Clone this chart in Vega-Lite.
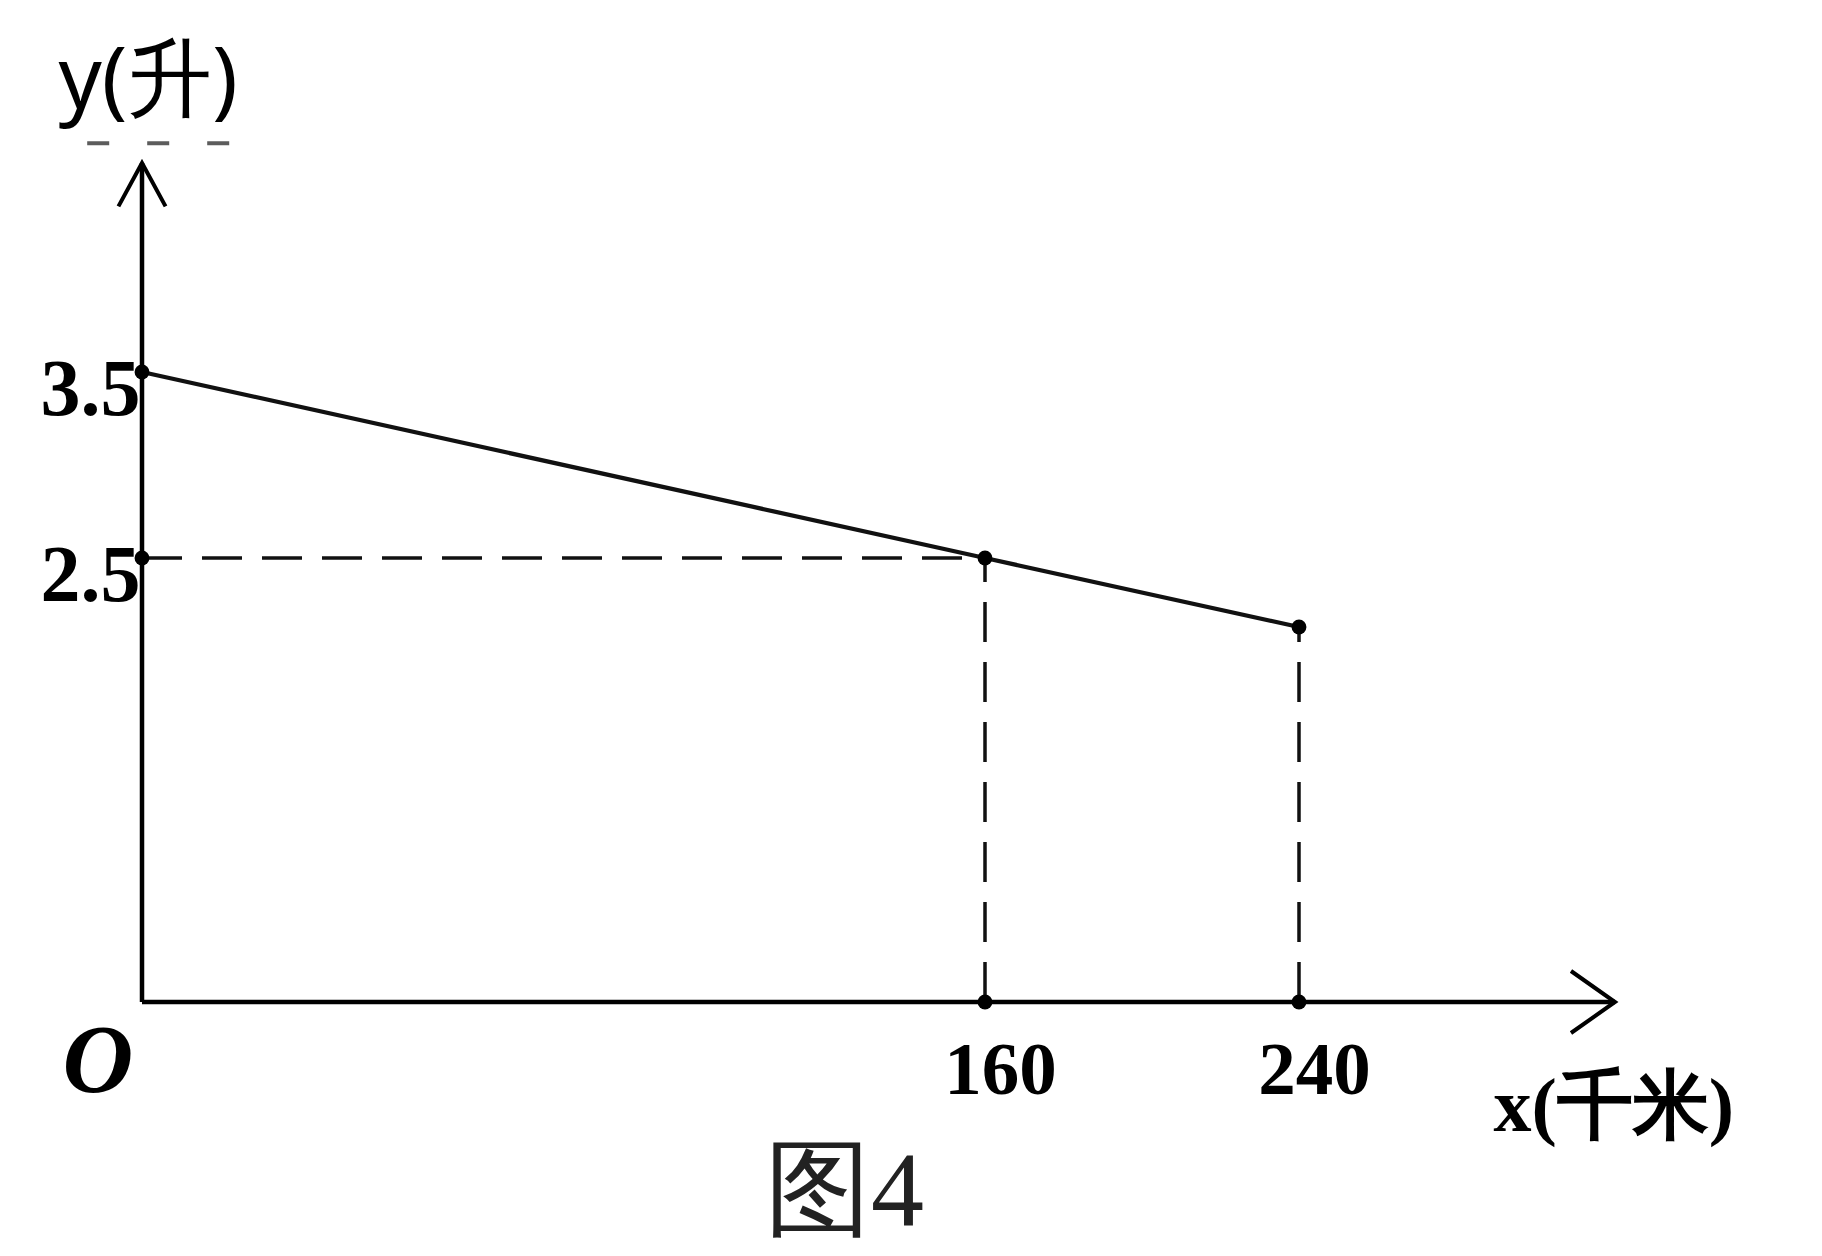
{
  "$schema": "https://vega.github.io/schema/vega-lite/v6.json",
  "width": 1473,
  "height": 839,
  "autosize": {"type": "none"},
  "padding": {"left": 142, "top": 163, "right": 207, "bottom": 254},
  "background": "white",
  "config": {"view": {"stroke": null}},
  "title": {"text": "图4", "orient": "bottom", "anchor": "middle", "frame": "group", "font": "Liberation Serif", "fontSize": 106, "fontWeight": "normal", "color": "#222", "offset": -4, "dx": -34},
  "datasets": {
    "axesLines": [
      {"x": 0, "y": 0, "x2": 320, "y2": 0},
      {"x": 0, "y": 0, "x2": 0, "y2": 4.66}
    ],
    "dashes": [
      {"x": 0, "y": 2.5, "x2": 160, "y2": 2.5},
      {"x": 160, "y": 0, "x2": 160, "y2": 2.5},
      {"x": 240, "y": 0, "x2": 240, "y2": 2.0}
    ],
    "topDash": [
      {"x": -10.4, "y": 4.77, "x2": 21.8, "y2": 4.77}
    ],
    "fuel": [
      {"x": 0, "y": 3.5},
      {"x": 160, "y": 2.5},
      {"x": 240, "y": 2.0}
    ],
    "dots": [
      {"x": 0, "y": 3.5},
      {"x": 0, "y": 2.5},
      {"x": 160, "y": 2.5},
      {"x": 240, "y": 2.0},
      {"x": 160, "y": 0},
      {"x": 240, "y": 0}
    ],
    "arrows": [
      {"x": 320, "y": 0, "dir": "right"},
      {"x": 0, "y": 4.66, "dir": "up"}
    ],
    "origin": [
      {"x": 0, "y": 0, "label": "O"}
    ]
  },
  "layer": [
    {
      "data": {"name": "axesLines"},
      "mark": {"type": "rule", "color": "black", "strokeWidth": 4.5},
      "encoding": {
        "x": {"field": "x", "type": "quantitative",
          "scale": {"type": "linear", "domain": [0, 160, 240, 320], "range": [0, 843, 1157, 1473], "nice": false, "zero": false},
          "axis": {"values": [160, 240], "domain": false, "ticks": false, "grid": false, "labelOverlap": false,
            "labelFont": "Liberation Serif", "labelFontWeight": "bold", "labelFontSize": 75, "labelColor": "black",
            "labelPadding": 32, "labelOffset": 15,
            "title": "x(千米)", "titleFont": "Liberation Serif", "titleFontWeight": "bold", "titleFontSize": 76, "titleColor": "black",
            "titleAlign": "left", "titleBaseline": "alphabetic", "titleX": 1351, "titleY": 128}},
        "x2": {"field": "x2"},
        "y": {"field": "y", "type": "quantitative",
          "scale": {"type": "linear", "domain": [0, 2, 2.5, 3.5, 4.66], "range": [839, 464, 395, 209, 0], "nice": false, "zero": false},
          "axis": {"values": [2.5, 3.5], "format": ".1f", "domain": false, "ticks": false, "grid": false, "labelOverlap": false,
            "labelFont": "Liberation Serif", "labelFontWeight": "bold", "labelFontSize": 80, "labelColor": "black",
            "labelPadding": 2, "labelOffset": 18,
            "title": "y(升)", "titleFont": "Noto Sans", "titleFontWeight": "normal", "titleFontSize": 85, "titleColor": "black",
            "titleAngle": 0, "titleAlign": "left", "titleBaseline": "alphabetic", "titleX": -84, "titleY": -56}},
        "y2": {"field": "y2"}
      }
    },
    {
      "data": {"name": "dashes"},
      "mark": {"type": "rule", "color": "#111", "strokeWidth": 3.5, "strokeDash": [40, 20]},
      "encoding": {
        "x": {"field": "x", "type": "quantitative", "scale": {"type": "linear", "domain": [0, 160, 240, 320], "range": [0, 843, 1157, 1473], "nice": false, "zero": false}},
        "x2": {"field": "x2"},
        "y": {"field": "y", "type": "quantitative", "scale": {"type": "linear", "domain": [0, 2, 2.5, 3.5, 4.66], "range": [839, 464, 395, 209, 0], "nice": false, "zero": false}},
        "y2": {"field": "y2"}
      }
    },
    {
      "data": {"name": "topDash"},
      "mark": {"type": "rule", "color": "#333", "strokeWidth": 4, "strokeDash": [22, 38], "opacity": 0.8},
      "encoding": {
        "x": {"field": "x", "type": "quantitative", "scale": {"type": "linear", "domain": [0, 160, 240, 320], "range": [0, 843, 1157, 1473], "nice": false, "zero": false}},
        "x2": {"field": "x2"},
        "y": {"field": "y", "type": "quantitative", "scale": {"type": "linear", "domain": [0, 2, 2.5, 3.5, 4.66], "range": [839, 464, 395, 209, 0], "nice": false, "zero": false}},
        "y2": {"field": "y2"}
      }
    },
    {
      "data": {"name": "fuel"},
      "mark": {"type": "line", "color": "#111", "strokeWidth": 4.2},
      "encoding": {
        "x": {"field": "x", "type": "quantitative", "scale": {"type": "linear", "domain": [0, 160, 240, 320], "range": [0, 843, 1157, 1473], "nice": false, "zero": false}},
        "y": {"field": "y", "type": "quantitative", "scale": {"type": "linear", "domain": [0, 2, 2.5, 3.5, 4.66], "range": [839, 464, 395, 209, 0], "nice": false, "zero": false}}
      }
    },
    {
      "data": {"name": "dots"},
      "mark": {"type": "point", "filled": true, "color": "black", "size": 220, "opacity": 1},
      "encoding": {
        "x": {"field": "x", "type": "quantitative", "scale": {"type": "linear", "domain": [0, 160, 240, 320], "range": [0, 843, 1157, 1473], "nice": false, "zero": false}},
        "y": {"field": "y", "type": "quantitative", "scale": {"type": "linear", "domain": [0, 2, 2.5, 3.5, 4.66], "range": [839, 464, 395, 209, 0], "nice": false, "zero": false}}
      }
    },
    {
      "data": {"name": "arrows"},
      "mark": {"type": "point", "filled": false, "color": "black", "strokeWidth": 4, "size": 3844, "opacity": 1},
      "encoding": {
        "x": {"field": "x", "type": "quantitative", "scale": {"type": "linear", "domain": [0, 160, 240, 320], "range": [0, 843, 1157, 1473], "nice": false, "zero": false}},
        "y": {"field": "y", "type": "quantitative", "scale": {"type": "linear", "domain": [0, 2, 2.5, 3.5, 4.66], "range": [839, 464, 395, 209, 0], "nice": false, "zero": false}},
        "shape": {"field": "dir", "type": "nominal", "scale": {"domain": ["right", "up"], "range": ["M-1.42,-1L0,0L-1.42,1", "M-0.76,1.4L0,0L0.76,1.4"]}, "legend": null}
      }
    },
    {
      "data": {"name": "origin"},
      "mark": {"type": "text", "font": "Liberation Serif", "fontStyle": "italic", "fontWeight": "bold", "fontSize": 98, "color": "black", "align": "center", "baseline": "middle", "dx": -44, "dy": 61},
      "encoding": {
        "x": {"field": "x", "type": "quantitative", "scale": {"type": "linear", "domain": [0, 160, 240, 320], "range": [0, 843, 1157, 1473], "nice": false, "zero": false}},
        "y": {"field": "y", "type": "quantitative", "scale": {"type": "linear", "domain": [0, 2, 2.5, 3.5, 4.66], "range": [839, 464, 395, 209, 0], "nice": false, "zero": false}},
        "text": {"field": "label"}
      }
    }
  ]
}
